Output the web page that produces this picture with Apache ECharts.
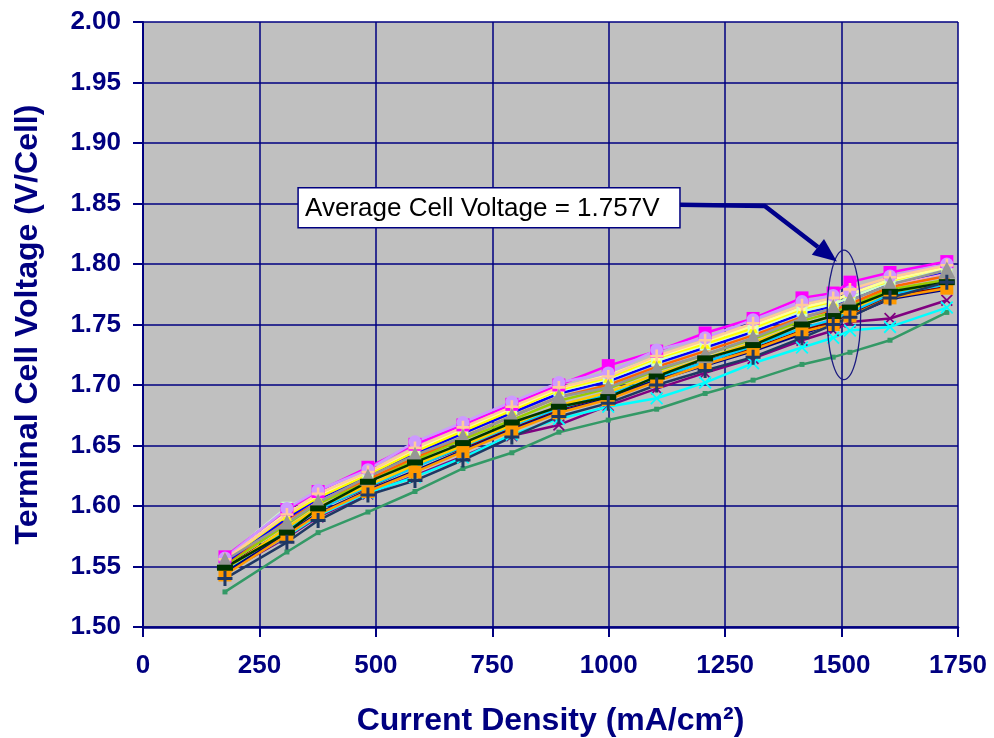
<!DOCTYPE html>
<html>
<head>
<meta charset="utf-8">
<script src="https://cdn.jsdelivr.net/npm/echarts@6/dist/echarts.min.js"></script>
<style>html,body{margin:0;padding:0;background:#fff;}#c{width:994px;height:738px;}</style>
</head>
<body>
<div id="c"></div>
<script>
const currentDensity = [176, 309, 376, 483, 584, 687, 792, 893, 999, 1103, 1207, 1310, 1415, 1482, 1518, 1604, 1726];
const xTicks = [0, 250, 500, 750, 1000, 1250, 1500, 1750];
const yTicks = [1.50, 1.55, 1.60, 1.65, 1.70, 1.75, 1.80, 1.85, 1.90, 1.95, 2.00];

const cellMagenta   = [1.558, 1.597, 1.612, 1.632, 1.651, 1.667, 1.684, 1.700, 1.716, 1.728, 1.743, 1.755, 1.772, 1.776, 1.785, 1.793, 1.802];
const cellLavender  = [1.557, 1.598, 1.613, 1.630, 1.653, 1.669, 1.686, 1.702, 1.710, 1.729, 1.739, 1.754, 1.769, 1.774, 1.777, 1.790, 1.800];
const cellPeach     = [1.556, 1.593, 1.610, 1.628, 1.648, 1.665, 1.682, 1.698, 1.707, 1.724, 1.737, 1.751, 1.766, 1.772, 1.779, 1.789, 1.799];
const cellLtYellow  = [1.556, 1.594, 1.609, 1.628, 1.647, 1.664, 1.681, 1.697, 1.708, 1.723, 1.736, 1.749, 1.764, 1.770, 1.775, 1.787, 1.797];
const cellYellow    = [1.555, 1.592, 1.607, 1.626, 1.645, 1.662, 1.679, 1.696, 1.706, 1.722, 1.734, 1.747, 1.763, 1.769, 1.776, 1.786, 1.798];
const cellLtGreen   = [1.557, 1.599, 1.611, 1.627, 1.646, 1.663, 1.680, 1.695, 1.705, 1.720, 1.733, 1.746, 1.761, 1.767, 1.772, 1.785, 1.795];
const cellBlue      = [1.553, 1.590, 1.606, 1.625, 1.643, 1.660, 1.677, 1.693, 1.703, 1.718, 1.731, 1.744, 1.759, 1.765, 1.770, 1.784, 1.794];
const cellRose      = [1.554, 1.591, 1.605, 1.624, 1.644, 1.661, 1.678, 1.694, 1.704, 1.719, 1.732, 1.745, 1.760, 1.766, 1.771, 1.783, 1.793];
const cellOrange    = [1.552, 1.589, 1.604, 1.622, 1.640, 1.657, 1.674, 1.690, 1.700, 1.715, 1.728, 1.741, 1.756, 1.762, 1.767, 1.781, 1.790];
const cellLime      = [1.551, 1.585, 1.602, 1.620, 1.638, 1.655, 1.671, 1.687, 1.697, 1.712, 1.725, 1.738, 1.753, 1.760, 1.765, 1.779, 1.787];
const cellGold      = [1.547, 1.582, 1.599, 1.617, 1.634, 1.650, 1.667, 1.683, 1.694, 1.709, 1.722, 1.735, 1.750, 1.757, 1.762, 1.777, 1.784];
const cellSky       = [1.548, 1.580, 1.597, 1.616, 1.632, 1.649, 1.666, 1.681, 1.692, 1.706, 1.719, 1.732, 1.747, 1.754, 1.760, 1.775, 1.783];
const cellDarkRed   = [1.549, 1.581, 1.598, 1.615, 1.633, 1.648, 1.664, 1.680, 1.691, 1.705, 1.720, 1.730, 1.745, 1.753, 1.758, 1.774, 1.781];
const cellNavyLine  = [1.545, 1.577, 1.594, 1.613, 1.629, 1.646, 1.663, 1.678, 1.689, 1.704, 1.716, 1.728, 1.742, 1.751, 1.757, 1.771, 1.779];
const cellOrangeSq  = [1.543, 1.576, 1.593, 1.612, 1.628, 1.645, 1.662, 1.677, 1.688, 1.703, 1.717, 1.729, 1.744, 1.750, 1.757, 1.772, 1.780];
const cellPurple    = [1.545, 1.574, 1.591, 1.610, 1.625, 1.641, 1.658, 1.667, 1.683, 1.697, 1.710, 1.722, 1.737, 1.745, 1.752, 1.755, 1.770];
const cellCyan      = [1.546, 1.575, 1.592, 1.611, 1.624, 1.640, 1.659, 1.672, 1.682, 1.689, 1.702, 1.718, 1.731, 1.739, 1.745, 1.748, 1.764];
const cellSeaGreen  = [1.529, 1.562, 1.578, 1.595, 1.612, 1.631, 1.644, 1.661, 1.671, 1.680, 1.693, 1.704, 1.717, 1.723, 1.727, 1.737, 1.760];
const cellGray      = [1.555, 1.586, 1.603, 1.624, 1.642, 1.657, 1.674, 1.690, 1.698, 1.713, 1.725, 1.739, 1.755, 1.764, 1.770, 1.783, 1.795];
const cellDarkGreen = [1.549, 1.578, 1.598, 1.620, 1.636, 1.652, 1.669, 1.682, 1.690, 1.707, 1.722, 1.733, 1.750, 1.757, 1.764, 1.777, 1.785];
const cellNavyPlus  = [1.540, 1.570, 1.588, 1.609, 1.621, 1.638, 1.657, 1.674, 1.685, 1.700, 1.712, 1.723, 1.739, 1.750, 1.756, 1.772, 1.785];

const annotationText = 'Average Cell Voltage = 1.757V';

const PLUS = 'path://M0,4H10V6H0ZM4,0H6V10H4Z';
const CROSS = 'path://M1,0L5,4L9,0L10,1L6,5L10,9L9,10L5,6L1,10L0,9L4,5L0,1Z';
const DASH = 'path://M0,0H10V3H0Z';

const seriesDefs = [
  ['Cell 1', cellSeaGreen, '#339966', 'rect', 5],
  ['Cell 2', cellDarkRed, '#800000', 'rect', 3],
  ['Cell 3', cellSky, '#00CCFF', 'rect', 5],
  ['Cell 4', cellGold, '#FFCC00', 'triangle', 9],
  ['Cell 5', cellLime, '#99CC00', 'rect', 6],
  ['Cell 6', cellOrange, '#FF6600', 'rect', 6],
  ['Cell 7', cellRose, '#FF99CC', 'circle', 7],
  ['Cell 8', cellBlue, '#0000FF', 'rect', 4],
  ['Cell 9', cellLtGreen, '#CCFFCC', 'rect', 11],
  ['Cell 10', cellYellow, '#FFFF00', 'triangle', 10],
  ['Cell 11', cellLtYellow, '#FFFF99', 'rect', 7],
  ['Cell 12', cellMagenta, '#FF00FF', 'rect', 13],
  ['Cell 13', cellLavender, '#CC99FF', 'circle', 13],
  ['Cell 14', cellPeach, '#FFCC99', PLUS, 13],
  ['Cell 15', cellPurple, '#800080', CROSS, 12],
  ['Cell 16', cellCyan, '#00FFFF', CROSS, 13],
  ['Cell 17', cellNavyLine, '#000080', 'rect', 3],
  ['Cell 18', cellOrangeSq, '#FF9900', 'rect', 13],
  ['Cell 19', cellGray, '#969696', 'triangle', 17],
  ['Cell 20', cellDarkGreen, '#003300', DASH, [16, 6]],
  ['Cell 21', cellNavyPlus, '#1F3864', PLUS, 15]
];

const chart = echarts.init(document.getElementById('c'), null, {renderer: 'canvas'});
const navy = '#000080';
const fontFam = '"Liberation Sans", Arial, sans-serif';

const option = {
  animation: false,
  backgroundColor: '#ffffff',
  grid: {left: 143, right: 36, top: 22, bottom: 111, show: true, backgroundColor: '#C0C0C0', borderWidth: 0,
    containLabel: false, outerBoundsMode: 'none'},
  xAxis: {
    type: 'value', min: 0, max: 1750, interval: 250,
    name: 'Current Density (mA/cm²)', nameLocation: 'middle', nameGap: 78,
    nameTextStyle: {color: navy, fontSize: 32, fontWeight: 'bold', fontFamily: fontFam},
    axisLine: {show: true, onZero: false, lineStyle: {color: navy, width: 2.5}},
    axisTick: {show: true, length: 10, lineStyle: {color: navy, width: 2}},
    axisLabel: {color: navy, fontSize: 26, fontWeight: 'bold', fontFamily: fontFam, margin: 26,
      formatter: v => xTicks.indexOf(v) >= 0 ? String(v) : ''},
    splitLine: {show: true, lineStyle: {color: navy, width: 1.5}}
  },
  yAxis: {
    type: 'value', min: 1.5, max: 2.0, interval: 0.05,
    name: 'Terminal Cell Voltage (V/Cell)', nameLocation: 'middle', nameGap: 99, nameRotate: 90,
    nameTextStyle: {color: navy, fontSize: 32, fontWeight: 'bold', fontFamily: fontFam},
    axisLine: {show: true, lineStyle: {color: navy, width: 2}},
    axisTick: {show: true, length: 10, lineStyle: {color: navy, width: 2}},
    axisLabel: {color: navy, fontSize: 26, fontWeight: 'bold', fontFamily: fontFam, margin: 22,
      formatter: v => { const t = yTicks.find(y => Math.abs(y - v) < 1e-6); return t !== undefined ? t.toFixed(2) : ''; }},
    splitLine: {show: true, lineStyle: {color: navy, width: 1.5}}
  },
  series: seriesDefs.map(([name, vals, color, symbol, size]) => ({
    name, type: 'line',
    data: currentDensity.map((x, i) => [x, vals[i]]),
    symbol, symbolSize: size, showSymbol: true,
    lineStyle: {color, width: 2.5},
    itemStyle: {color, borderWidth: 0},
    z: 3
  }))
};
chart.setOption(option);

function drawAnnotation() {
  const p = d => chart.convertToPixel({gridIndex: 0}, d);
  const boxTL = p([333, 1.863]);
  const boxBR = p([1153, 1.830]);
  const a0 = p([1153, 1.849]);
  const a1 = p([1335, 1.848]);
  const tip = p([1490, 1.802]);
  const ec = p([1505, 1.758]);
  const eTop = p([1505, 1.8115]);
  const eRight = p([1541, 1.758]);
  const ang = Math.atan2(tip[1] - a1[1], tip[0] - a1[0]);
  const hl = 24, hw = 10;
  const bx = tip[0] - hl * Math.cos(ang), by = tip[1] - hl * Math.sin(ang);
  const nx = -Math.sin(ang), ny = Math.cos(ang);
  chart.setOption({
    graphic: [
      {type: 'polyline', z: 100, shape: {points: [a0, a1, [bx, by]]}, style: {stroke: '#00008B', lineWidth: 4.5, fill: null}},
      {type: 'polygon', z: 101, shape: {points: [tip, [bx + nx * hw, by + ny * hw], [bx - nx * hw, by - ny * hw]]}, style: {fill: '#00008B'}},
      {type: 'ellipse', z: 100, shape: {cx: ec[0], cy: ec[1], rx: eRight[0] - ec[0], ry: ec[1] - eTop[1]}, style: {stroke: '#1a1a80', lineWidth: 1.3, fill: null}},
      {type: 'rect', z: 102, shape: {x: boxTL[0], y: boxTL[1], width: boxBR[0] - boxTL[0], height: boxBR[1] - boxTL[1]},
        style: {fill: '#ffffff', stroke: '#000080', lineWidth: 1.5}},
      {type: 'text', z: 103, x: boxTL[0] + 7, y: (boxTL[1] + boxBR[1]) / 2 + 1,
        style: {text: annotationText, fill: '#000000', fontSize: 26, fontFamily: fontFam, verticalAlign: 'middle', align: 'left'}}
    ]
  });
}
drawAnnotation();
</script>
</body>
</html>
